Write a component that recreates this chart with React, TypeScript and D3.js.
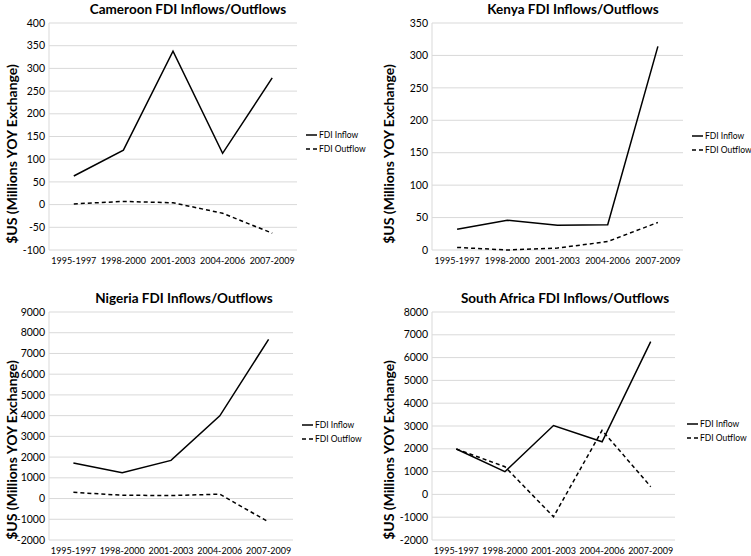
import React from "react";
import * as d3 from "d3";

const categories = ["1995-1997", "1998-2000", "2001-2003", "2004-2006", "2007-2009"];

const cameroonInflow = [63, 120, 338, 113, 279];
const cameroonOutflow = [1.5, 7, 4, -19, -63];
const cameroonTicks = [-100, -50, 0, 50, 100, 150, 200, 250, 300, 350, 400];

const kenyaInflow = [32, 46, 38, 39, 314];
const kenyaOutflow = [4, 0, 3, 13, 42.5];
const kenyaTicks = [0, 50, 100, 150, 200, 250, 300, 350];

const nigeriaInflow = [1720, 1240, 1840, 3990, 7680];
const nigeriaOutflow = [300, 160, 145, 210, -1130];
const nigeriaTicks = [-2000, -1000, 0, 1000, 2000, 3000, 4000, 5000, 6000, 7000, 8000, 9000];

const southAfricaInflow = [1990, 995, 3020, 2310, 6700];
const southAfricaOutflow = [1990, 1215, -980, 2810, 340];
const southAfricaTicks = [-2000, -1000, 0, 1000, 2000, 3000, 4000, 5000, 6000, 7000, 8000];

const seriesNames = ["FDI Inflow", "FDI Outflow"];

type Panel = {
  title: string;
  inflow: number[];
  outflow: number[];
  ticks: number[];
  x0: number; x1: number; y0: number; y1: number;
  titleX: number; titleY: number; axisTitleX: number; axisTitleY: number;
  legendX: number; legendY: number;
};

const panels: Panel[] = [
  { title: "Cameroon FDI Inflows/Outflows", inflow: cameroonInflow, outflow: cameroonOutflow, ticks: cameroonTicks,
    x0: 49, x1: 297, y0: 23, y1: 250, titleX: 188, titleY: 14, axisTitleX: 17, axisTitleY: 154, legendX: 306, legendY: 135 },
  { title: "Kenya FDI Inflows/Outflows", inflow: kenyaInflow, outflow: kenyaOutflow, ticks: kenyaTicks,
    x0: 432, x1: 683, y0: 23, y1: 250, titleX: 573, titleY: 14, axisTitleX: 394, axisTitleY: 154, legendX: 692, legendY: 136 },
  { title: "Nigeria FDI Inflows/Outflows", inflow: nigeriaInflow, outflow: nigeriaOutflow, ticks: nigeriaTicks,
    x0: 49, x1: 293, y0: 312, y1: 540, titleX: 184, titleY: 303, axisTitleX: 17, axisTitleY: 450, legendX: 302, legendY: 425 },
  { title: "South Africa FDI Inflows/Outflows", inflow: southAfricaInflow, outflow: southAfricaOutflow, ticks: southAfricaTicks,
    x0: 432, x1: 675, y0: 312, y1: 540, titleX: 565, titleY: 303, axisTitleX: 394, axisTitleY: 450, legendX: 687, legendY: 424 },
];

const FONT = "Lato, 'Open Sans', sans-serif";

function ChartPanel({ p }: { p: Panel }) {
  const x = d3.scalePoint<string>().domain(categories).range([p.x0, p.x1]).padding(0.5);
  const y = d3.scaleLinear().domain([p.ticks[0], p.ticks[p.ticks.length - 1]]).range([p.y1, p.y0]);
  const line = d3.line<number>().x((_, i) => x(categories[i]) as number).y((d) => y(d));
  return (
    <g>
      <text x={p.titleX} y={p.titleY} textAnchor="middle" fontSize={13.5} fontWeight="bold" fontFamily={FONT} fill="#000">{p.title}</text>
      {p.ticks.map((t) => (
        <g key={t}>
          <line x1={p.x0} x2={p.x1} y1={y(t)} y2={y(t)} stroke="#d9d9d9" strokeWidth={1} />
          <text x={p.x0 - 4} y={y(t)} dy="0.35em" textAnchor="end" fontSize={10.5} fontFamily={FONT} fill="#000">{t}</text>
        </g>
      ))}
      <line x1={p.x0} x2={p.x0} y1={p.y0} y2={p.y1} stroke="#d9d9d9" strokeWidth={1} />
      {categories.map((c) => (
        <text key={c} x={x(c)} y={p.y1 + 11} dy="0.35em" textAnchor="middle" fontSize={9} fontFamily={FONT} fill="#000">{c}</text>
      ))}
      <text transform={`translate(${p.axisTitleX},${p.axisTitleY}) rotate(-90)`} textAnchor="middle" fontSize={14} fontWeight="bold" fontFamily={FONT} fill="#000">$US (Millions YOY Exchange)</text>
      <path d={line(p.inflow) || ""} fill="none" stroke="#000" strokeWidth={1.5} />
      <path d={line(p.outflow) || ""} fill="none" stroke="#000" strokeWidth={1.5} strokeDasharray="4,3" />
      {seriesNames.map((s, i) => (
        <g key={s}>
          <line x1={p.legendX} x2={p.legendX + 11} y1={p.legendY + i * 14} y2={p.legendY + i * 14} stroke="#000" strokeWidth={1.5} strokeDasharray={i === 1 ? "4,3" : undefined} />
          <text x={p.legendX + 13} y={p.legendY + i * 14} dy="0.35em" fontSize={8.5} fontFamily={FONT} fill="#000">{s}</text>
        </g>
      ))}
    </g>
  );
}

export default function App() {
  return (
    <svg width={751} height={556} style={{ position: "absolute", left: 0, top: 0, background: "#fff" }}>
      <rect width={751} height={556} fill="#fff" />
      {panels.map((p) => <ChartPanel key={p.title} p={p} />)}
    </svg>
  );
}
